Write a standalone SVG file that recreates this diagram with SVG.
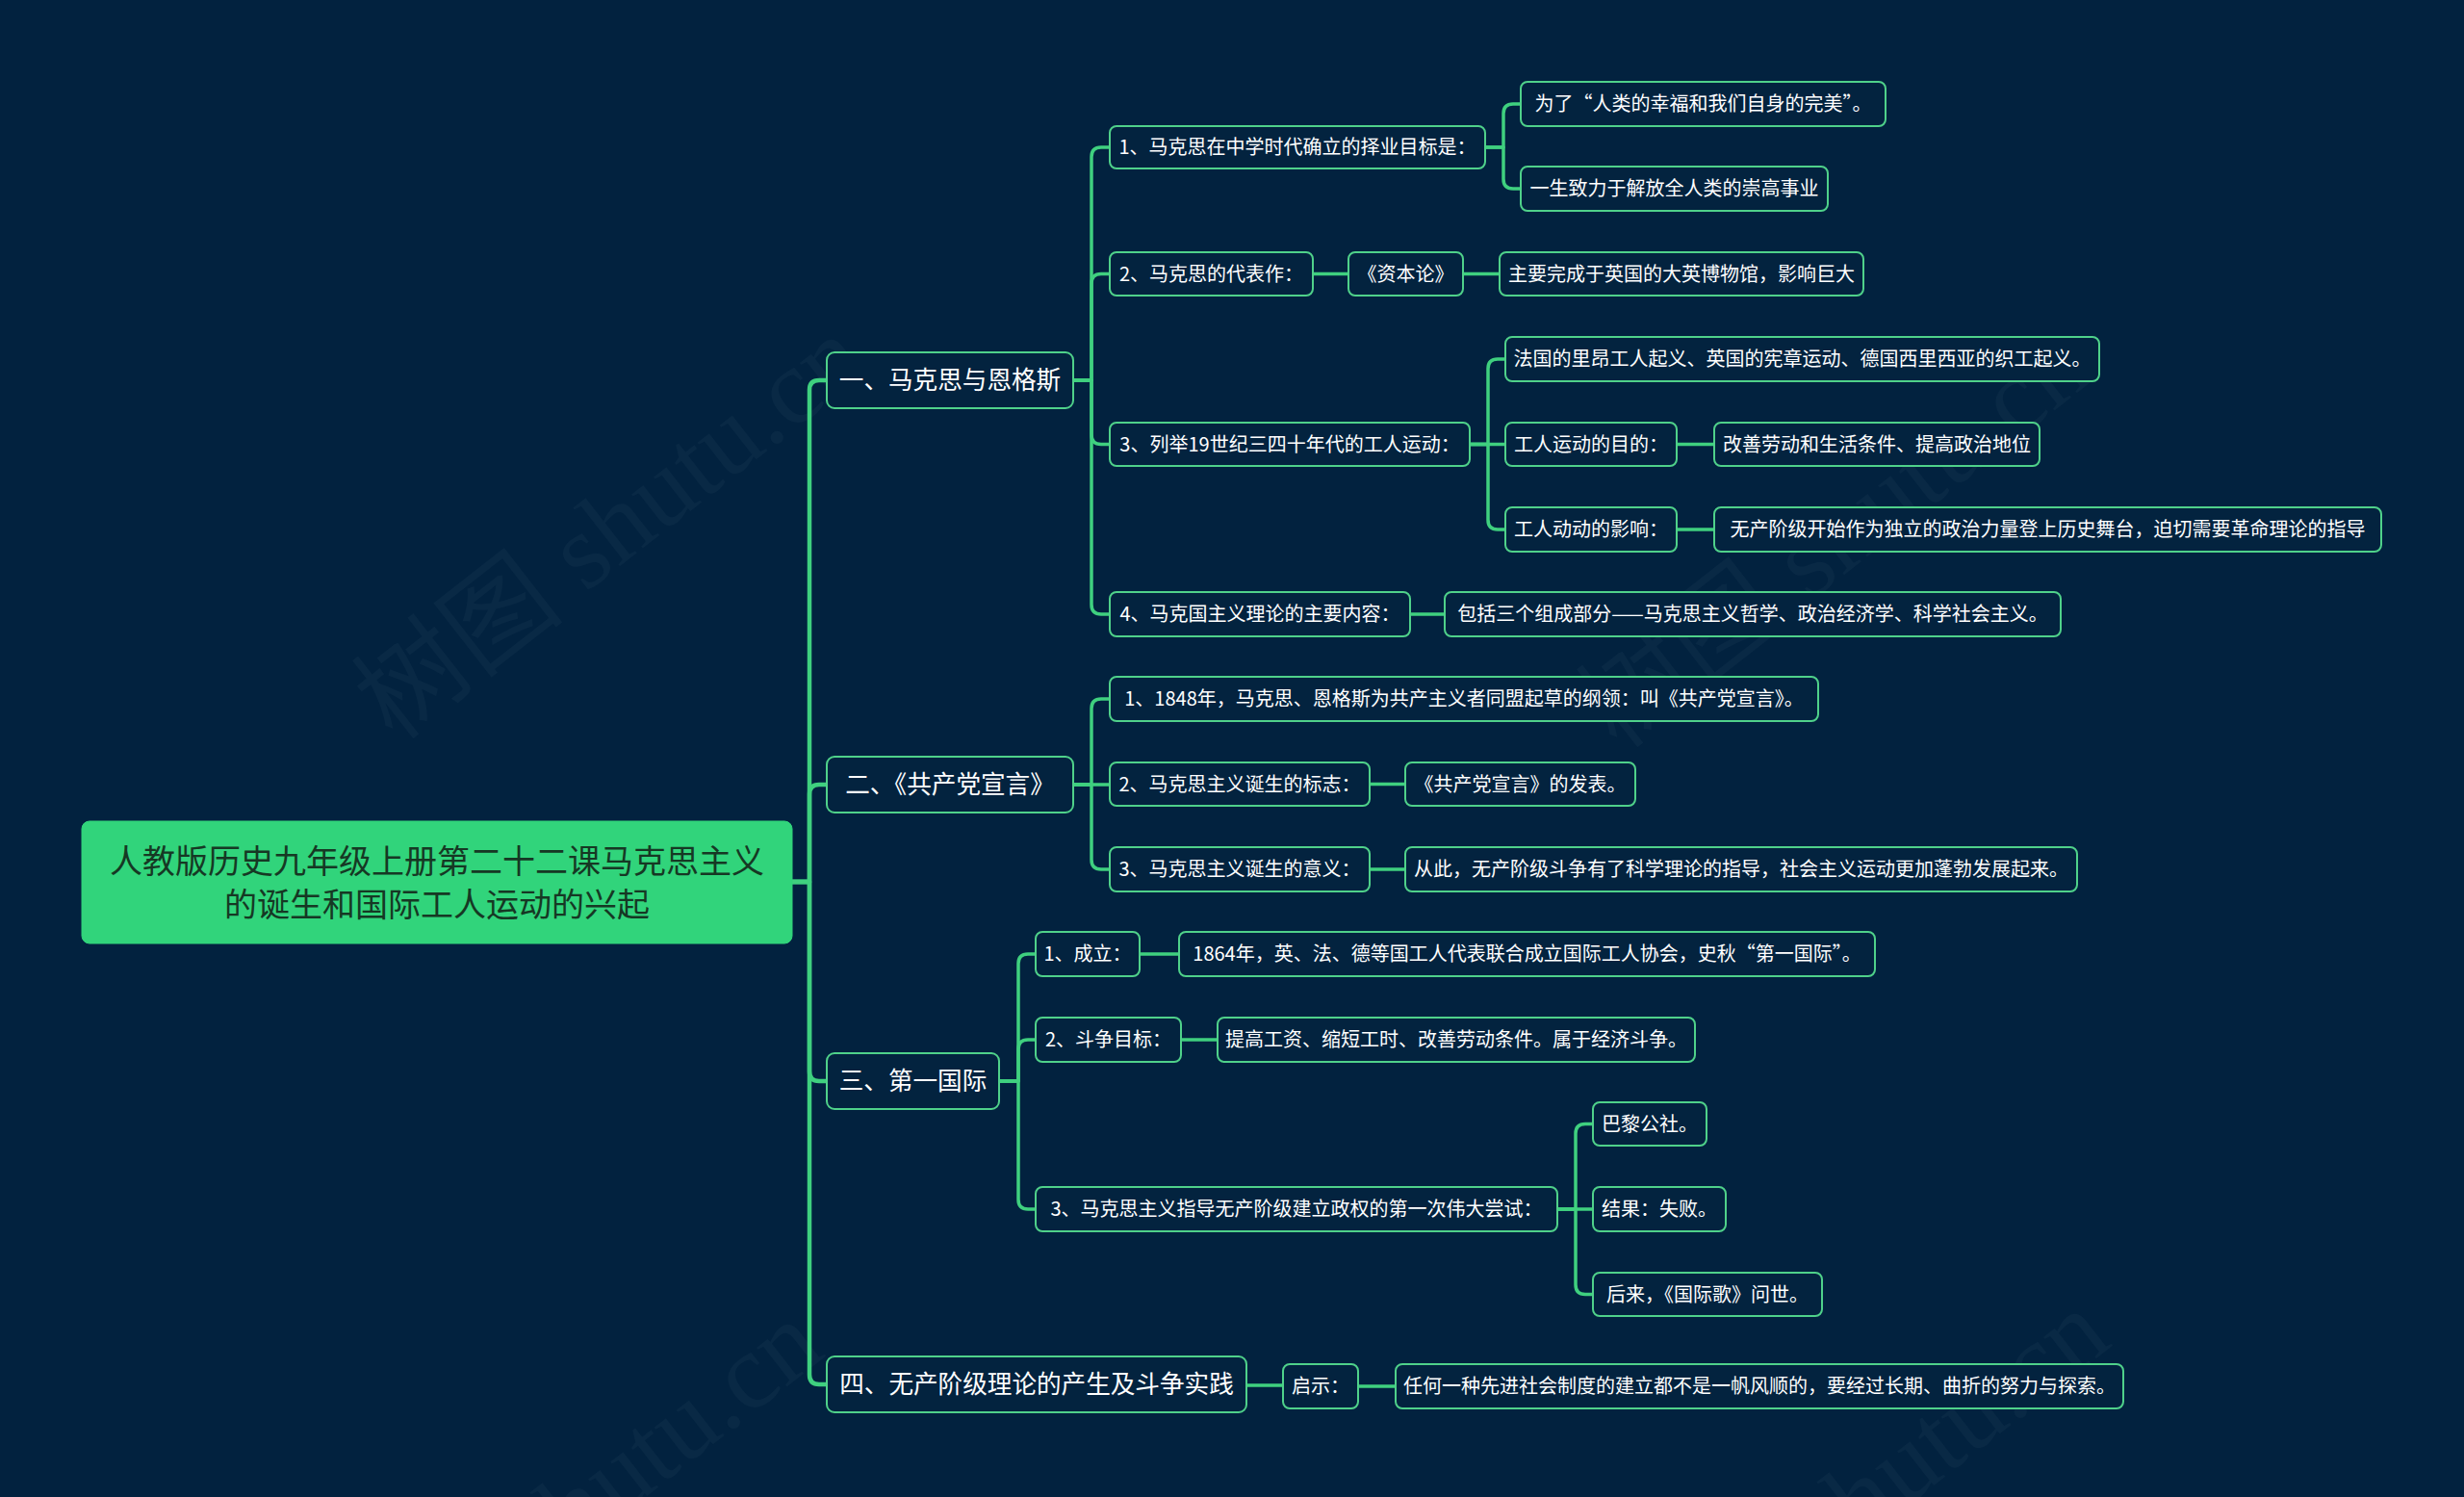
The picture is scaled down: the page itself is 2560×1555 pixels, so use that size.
<svg xmlns="http://www.w3.org/2000/svg" width="2560" height="1555" viewBox="0 0 2560 1555">
<style>
.bg{fill:#02223f}
.wm{font-family:"Liberation Serif","Noto Sans CJK SC",serif;font-size:112px;fill:#8a9aa8;fill-opacity:0.06;text-anchor:middle}
.n rect{fill:#03233f;stroke:#4fd18a;stroke-width:2}
.n text{font-family:"Noto Sans CJK SC","Noto Sans",sans-serif;fill:#ffffff;text-anchor:middle;font-size:20px}
.l1 text{font-size:25.6px}
.root rect{fill:#31d47b;stroke:#31d47b;stroke-width:1}
.root text{font-family:"Noto Sans CJK SC","Noto Sans",sans-serif;fill:#163824;text-anchor:middle;font-size:34px}
.c path{fill:none;stroke:#3fd07f;stroke-width:3.5;stroke-linecap:round;stroke-linejoin:round}
.c .m{stroke-width:4.5}
</style>
<rect class="bg" x="0" y="0" width="2560" height="1555"/>
<g id="watermarks">
<text class="wm" x="657" y="578" transform="rotate(-38 657 578)">树图 shutu.cn</text>
<text class="wm" x="1929" y="587" transform="rotate(-38 1929 587)">树图 shutu.cn</text>
<text class="wm" x="612" y="1601" transform="rotate(-38 612 1601)">树图 shutu.cn</text>
<text class="wm" x="1949" y="1590" transform="rotate(-38 1949 1590)">树图 shutu.cn</text>
</g>
<g id="connectors" class="c">
<path class="m" d="M823 916 H841 V405 Q841 395 851 395 H859"/>
<path class="m" d="M823 916 H841 V825 Q841 815 851 815 H859"/>
<path class="m" d="M823 916 H841 V1113 Q841 1123 851 1123 H859"/>
<path class="m" d="M823 916 H841 V1428 Q841 1438 851 1438 H859"/>
<path d="M1115 395 H1134 V163 Q1134 153 1144 153 H1153"/>
<path d="M1115 395 H1134 V294.5 Q1134 284.5 1144 284.5 H1153"/>
<path d="M1115 395 H1134 V451.5 Q1134 461.5 1144 461.5 H1153"/>
<path d="M1115 395 H1134 V628 Q1134 638 1144 638 H1153"/>
<path d="M1543 153 H1562 V118 Q1562 108 1572 108 H1580"/>
<path d="M1543 153 H1562 V186 Q1562 196 1572 196 H1580"/>
<path d="M1364 284.5 H1401"/>
<path d="M1520 284.5 H1558"/>
<path d="M1527 461.5 H1546 V383 Q1546 373 1556 373 H1564"/>
<path d="M1527 461.5 H1564"/>
<path d="M1527 461.5 H1546 V540 Q1546 550 1556 550 H1564"/>
<path d="M1742 461.5 H1781"/>
<path d="M1742 550 H1781"/>
<path d="M1465 638 H1501"/>
<path d="M1115 815 H1134 V736 Q1134 726 1144 726 H1153"/>
<path d="M1115 815 H1153"/>
<path d="M1115 815 H1134 V893 Q1134 903 1144 903 H1153"/>
<path d="M1423 814.5 H1460"/>
<path d="M1423 903 H1460"/>
<path d="M1038 1123 H1058 V1001 Q1058 991 1068 991 H1076"/>
<path d="M1038 1123 H1058 V1090 Q1058 1080 1068 1080 H1076"/>
<path d="M1038 1123 H1058 V1246 Q1058 1256 1068 1256 H1076"/>
<path d="M1184 991 H1225"/>
<path d="M1227 1080 H1265"/>
<path d="M1618 1256 H1637 V1177.5 Q1637 1167.5 1647 1167.5 H1655"/>
<path d="M1618 1256 H1655"/>
<path d="M1618 1256 H1637 V1334.5 Q1637 1344.5 1647 1344.5 H1655"/>
<path d="M1295 1439 H1333"/>
<path d="M1411 1440 H1450"/>
</g>
<g id="root" class="root"><rect x="85" y="853" width="738" height="127" rx="8"/><text x="454" y="907">人教版历史九年级上册第二十二课马克思主义</text><text x="454" y="952">的诞生和国际工人运动的兴起</text></g>
<g id="a1" class="n l1"><rect x="859" y="366" width="256" height="58" rx="8"/><text x="987" y="404">一、马克思与恩格斯</text></g>
<g id="a2" class="n l1"><rect x="859" y="786" width="256" height="58" rx="8"/><text x="987" y="824">二、《共产党宣言》</text></g>
<g id="a3" class="n l1"><rect x="859" y="1094" width="179" height="58" rx="8"/><text x="948.5" y="1132">三、第一国际</text></g>
<g id="a4" class="n l1"><rect x="859" y="1409" width="436" height="58" rx="8"/><text x="1077" y="1447">四、无产阶级理论的产生及斗争实践</text></g>
<g id="b11" class="n"><rect x="1153" y="131" width="390" height="44" rx="7"/><text x="1348" y="160">1、马克思在中学时代确立的择业目标是：</text></g>
<g id="b12" class="n"><rect x="1153" y="262" width="211" height="45" rx="7"/><text x="1258.5" y="291.5">2、马克思的代表作：</text></g>
<g id="b13" class="n"><rect x="1153" y="439" width="374" height="45" rx="7"/><text x="1340" y="468.5">3、列举19世纪三四十年代的工人运动：</text></g>
<g id="b14" class="n"><rect x="1153" y="615" width="312" height="46" rx="7"/><text x="1309" y="645">4、马克国主义理论的主要内容：</text></g>
<g id="c111" class="n"><rect x="1580" y="85" width="379" height="46" rx="7"/><text x="1769.5" y="115">为了“人类的幸福和我们自身的完美”。</text></g>
<g id="c112" class="n"><rect x="1580" y="173" width="319" height="46" rx="7"/><text x="1739.5" y="203">一生致力于解放全人类的崇高事业</text></g>
<g id="c121" class="n"><rect x="1401" y="262" width="119" height="45" rx="7"/><text x="1460.5" y="291.5">《资本论》</text></g>
<g id="c122" class="n"><rect x="1558" y="262" width="378" height="45" rx="7"/><text x="1747" y="291.5">主要完成于英国的大英博物馆，影响巨大</text></g>
<g id="c131" class="n"><rect x="1564" y="350" width="617" height="46" rx="7"/><text x="1872.5" y="380">法国的里昂工人起义、英国的宪章运动、德国西里西亚的织工起义。</text></g>
<g id="c132" class="n"><rect x="1564" y="439" width="178" height="45" rx="7"/><text x="1653" y="468.5">工人运动的目的：</text></g>
<g id="d132" class="n"><rect x="1781" y="439" width="338" height="45" rx="7"/><text x="1950" y="468.5">改善劳动和生活条件、提高政治地位</text></g>
<g id="c133" class="n"><rect x="1564" y="527" width="178" height="46" rx="7"/><text x="1653" y="557">工人动动的影响：</text></g>
<g id="d133" class="n"><rect x="1781" y="527" width="693" height="46" rx="7"/><text x="2127.5" y="557">无产阶级开始作为独立的政治力量登上历史舞台，迫切需要革命理论的指导</text></g>
<g id="c141" class="n"><rect x="1501" y="615" width="640" height="46" rx="7"/><text x="1821" y="645">包括三个组成部分——马克思主义哲学、政治经济学、科学社会主义。</text></g>
<g id="b21" class="n"><rect x="1153" y="703" width="736" height="46" rx="7"/><text x="1521" y="733">1、1848年，马克思、恩格斯为共产主义者同盟起草的纲领：叫《共产党宣言》。</text></g>
<g id="b22" class="n"><rect x="1153" y="792" width="270" height="45" rx="7"/><text x="1288" y="821.5">2、马克思主义诞生的标志：</text></g>
<g id="c22" class="n"><rect x="1460" y="792" width="239" height="45" rx="7"/><text x="1579.5" y="821.5">《共产党宣言》的发表。</text></g>
<g id="b23" class="n"><rect x="1153" y="880" width="270" height="46" rx="7"/><text x="1288" y="910">3、马克思主义诞生的意义：</text></g>
<g id="c23" class="n"><rect x="1460" y="880" width="698" height="46" rx="7"/><text x="1809" y="910">从此，无产阶级斗争有了科学理论的指导，社会主义运动更加蓬勃发展起来。</text></g>
<g id="b31" class="n"><rect x="1076" y="968" width="108" height="46" rx="7"/><text x="1130" y="998">1、成立：</text></g>
<g id="c31" class="n"><rect x="1225" y="968" width="723" height="46" rx="7"/><text x="1586.5" y="998">1864年，英、法、德等国工人代表联合成立国际工人协会，史秋“第一国际”。</text></g>
<g id="b32" class="n"><rect x="1076" y="1057" width="151" height="46" rx="7"/><text x="1151.5" y="1087">2、斗争目标：</text></g>
<g id="c32" class="n"><rect x="1265" y="1057" width="496" height="46" rx="7"/><text x="1513" y="1087">提高工资、缩短工时、改善劳动条件。属于经济斗争。</text></g>
<g id="b33" class="n"><rect x="1076" y="1233" width="542" height="46" rx="7"/><text x="1347" y="1263">3、马克思主义指导无产阶级建立政权的第一次伟大尝试：</text></g>
<g id="c331" class="n"><rect x="1655" y="1145" width="118" height="45" rx="7"/><text x="1714" y="1174.5">巴黎公社。</text></g>
<g id="c332" class="n"><rect x="1655" y="1233" width="138" height="46" rx="7"/><text x="1724" y="1263">结果：失败。</text></g>
<g id="c333" class="n"><rect x="1655" y="1322" width="238" height="45" rx="7"/><text x="1774" y="1351.5">后来，《国际歌》问世。</text></g>
<g id="b41" class="n"><rect x="1333" y="1417" width="78" height="46" rx="7"/><text x="1372" y="1447">启示：</text></g>
<g id="c41" class="n"><rect x="1450" y="1417" width="756" height="46" rx="7"/><text x="1828" y="1447">任何一种先进社会制度的建立都不是一帆风顺的，要经过长期、曲折的努力与探索。</text></g>
</svg>
